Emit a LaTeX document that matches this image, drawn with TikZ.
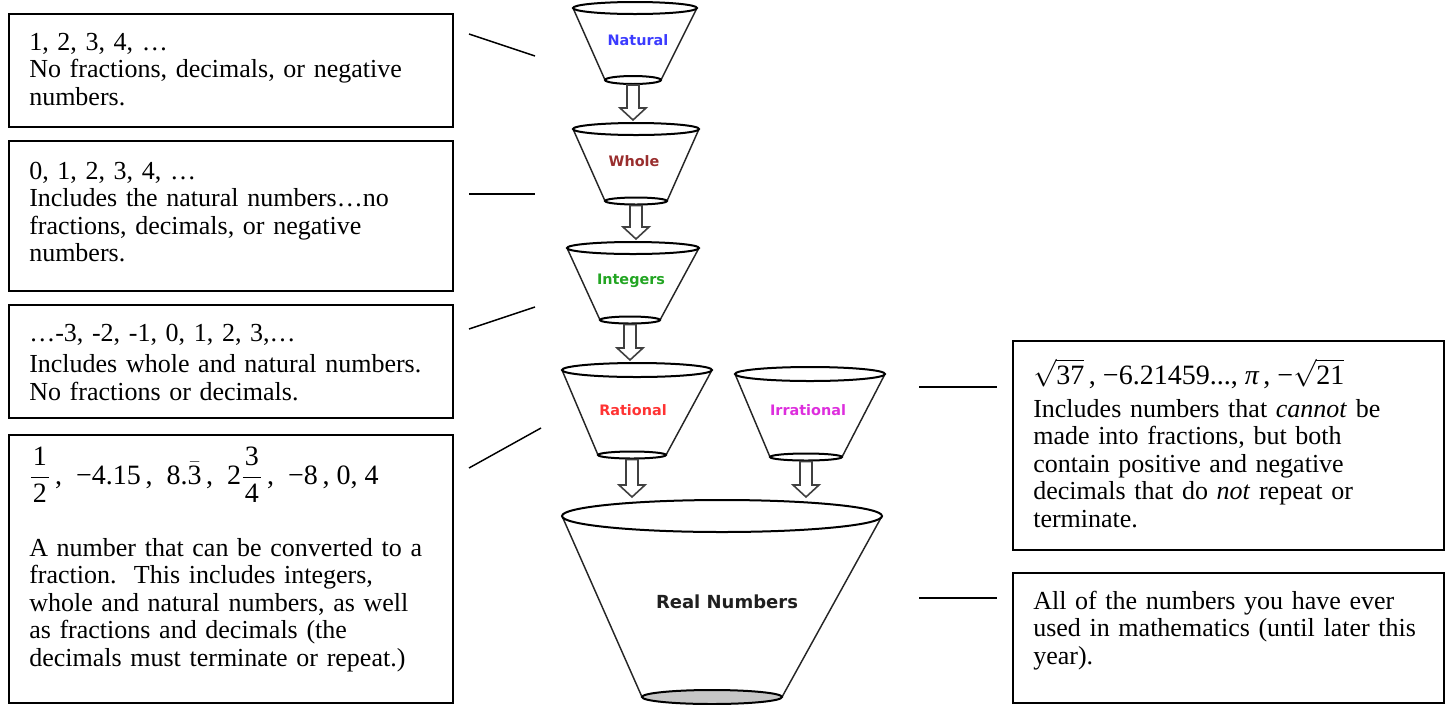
\documentclass[tikz,border=0pt]{standalone}
\usepackage{amsmath}
\usepackage{fontspec}
\setmainfont{Liberation Serif}
\newfontfamily\labfont{DejaVu Sans}
\usetikzlibrary{calc,fit}
\definecolor{natc}{HTML}{3B3BFF}
\definecolor{whoc}{HTML}{992E2E}
\definecolor{intc}{HTML}{22A522}
\definecolor{ratc}{HTML}{FF3333}
\definecolor{irrc}{HTML}{DD2EDD}
\definecolor{realc}{HTML}{202020}
\newcommand\funnel[9]{%
  \draw[fside] ({#2-#4},#3) -- ({#6-#8},#7);
  \draw[fside] ({#2+#4},#3) -- ({#6+#8},#7);
  \draw[frim] (#6,#7) ellipse [x radius=#8, y radius=#9];
  \draw[frim] (#2,#3) ellipse [x radius=#4, y radius=#5];
  \coordinate (#1-in) at (#2,{#3-#5-3});
  \coordinate (#1-out) at (#6,{#7+#9+1});
}
\newcommand\barrow[2]{%
  \draw[barr] ($(#1)+(-6,0)$) -- ($(#2)+(-6,-12)$) -- ($(#2)+(-13,-12)$) -- (#2)
    -- ($(#2)+(13,-12)$) -- ($(#2)+(6,-12)$) -- ($(#1)+(6,0)$) -- cycle;
}
\newcommand\mfrac[2]{$\dfrac{\kern1.5pt\mbox{#1}\kern1.5pt}{\kern1.5pt\mbox{#2}\kern1.5pt}$}
\begin{document}
\begin{tikzpicture}[x=0.75pt,y=-0.75pt,
  box/.style={draw, line width=1.1pt, inner sep=0pt},
  txt/.style={anchor=base west, inner sep=0pt, text width=400pt, align=left,
    font=\fontsize{19.5}{20.7}\selectfont},
  mathline/.style={anchor=base west, inner sep=0pt, font=\fontsize{21}{24}\selectfont},
  fside/.style={line width=1.1pt, draw=black!85},
  frim/.style={line width=1.5pt, draw=black},
  barr/.style={line width=1.2pt, draw=black!75, fill=white, line join=miter},
  flab/.style={inner sep=0pt, font=\labfont\bfseries\fontsize{10.8}{13}\selectfont},
  conn/.style={line width=1.1pt}]
\useasboundingbox (0,0) rectangle (1448,704);

% ---- boxes ----
\coordinate (b1nw) at (9,14);   \coordinate (b1se) at (453,127);
\coordinate (b2nw) at (9,141);  \coordinate (b2se) at (453,291);
\coordinate (b3nw) at (9,305);  \coordinate (b3se) at (453,418);
\coordinate (b4nw) at (9,435);  \coordinate (b4se) at (453,703);
\coordinate (r1nw) at (1013,341); \coordinate (r1se) at (1444,550);
\coordinate (r2nw) at (1013,573); \coordinate (r2se) at (1444,703);
\node[box, fit=(b1nw)(b1se)] (box1) {};
\node[box, fit=(b2nw)(b2se)] (box2) {};
\node[box, fit=(b3nw)(b3se)] (box3) {};
\node[box, fit=(b4nw)(b4se)] (box4) {};
\node[box, fit=(r1nw)(r1se)] (rbox1) {};
\node[box, fit=(r2nw)(r2se)] (rbox2) {};

% ---- texts ----
\node[txt] (t1) at (29,50) {1, 2, 3, 4, …\\No fractions, decimals, or negative\\numbers.};
\node[txt] (t2) at (29,179) {0, 1, 2, 3, 4, …\\Includes the natural numbers…no\\fractions, decimals, or negative\\numbers.};
\node[txt] (t3) at (29,341) {…-3, -2, -1, 0, 1, 2, 3,…\\[3pt]Includes whole and natural numbers.\\No fractions or decimals.};
\node[mathline] (m4) at (29,484) {\mfrac{1}{2}\,,\ \ −4.15\,,\ \ 8.$\bar{\mbox{3}}$\,,\ \ 2\mfrac{3}{4}\,,\ \ −8\,,\ 0,\ 4};
\node[txt] (t4) at (29,556) {A number that can be converted to a\\fraction.\ \ This includes integers,\\whole and natural numbers, as well\\as fractions and decimals (the\\decimals must terminate or repeat.)};
\node[mathline] (m5) at (1033,384) {$\sqrt{\mbox{37}}$\,,\ −6.21459...,\ {\itshape π}\,,\ −$\sqrt{\mbox{21}}$};
\node[txt] (t5) at (1033,417) {Includes numbers that \textit{cannot} be\\made into fractions, but both\\contain positive and negative\\decimals that do \textit{not} repeat or\\terminate.};
\node[txt] (t6) at (1033,609) {All of the numbers you have ever\\used in mathematics (until later this\\year).};

% ---- funnels ----
\fill[gray!45] (712,697) ellipse [x radius=70, y radius=7];
\funnel{nat}{635}{8}{62}{6}{633}{80}{28}{4}
\funnel{who}{636}{129}{63}{6}{636}{201}{31}{3.5}
\funnel{int}{633}{248}{66}{6}{630}{320}{30}{3.5}
\funnel{rat}{637}{370}{75}{7}{632}{455}{34}{3.5}
\funnel{irr}{810}{374}{75}{7}{806}{457}{36}{3.5}
\funnel{real}{722}{516}{160}{16}{712}{697}{70}{7}

\node[flab, text=natc] (natural) at (638,40) {Natural};
\node[flab, text=whoc] (whole) at (634,161) {Whole};
\node[flab, text=intc] (integers) at (631,281) {Integers};
\node[flab, text=ratc] (rational) at (633,410) {Rational};
\node[flab, text=irrc] (irrational) at (808,410) {Irrational};
\node[flab, text=realc, font=\labfont\bfseries\fontsize{13.5}{16}\selectfont] (real) at (727,602) {Real Numbers};

% ---- block arrows ----
\coordinate (a1) at (nat-out |- who-in);
\coordinate (a2) at (who-out |- int-in);
\coordinate (a3) at (int-out |- rat-in);
\coordinate (a4) at (rat-out |- real-in);
\coordinate (a5) at (irr-out |- real-in);
\barrow{nat-out}{a1}
\barrow{who-out}{a2}
\barrow{int-out}{a3}
\barrow{rat-out}{a4}
\barrow{irr-out}{a5}

% ---- connectors ----
\coordinate (c1a) at (469,34);  \coordinate (c1b) at (535,56);
\coordinate (c2a) at (469,194); \coordinate (c2b) at (535,194);
\coordinate (c3a) at (469,329); \coordinate (c3b) at (535,307);
\coordinate (c4a) at (469,468); \coordinate (c4b) at (541,428);
\coordinate (c5a) at (919,387); \coordinate (c5b) at (997,387);
\coordinate (c6a) at (919,598); \coordinate (c6b) at (997,598);
\draw[conn] (c1a) -- (c1b);
\draw[conn] (c2a) -- (c2b);
\draw[conn] (c3a) -- (c3b);
\draw[conn] (c4a) -- (c4b);
\draw[conn] (c5a) -- (c5b);
\draw[conn] (c6a) -- (c6b);
\end{tikzpicture}
\end{document}
